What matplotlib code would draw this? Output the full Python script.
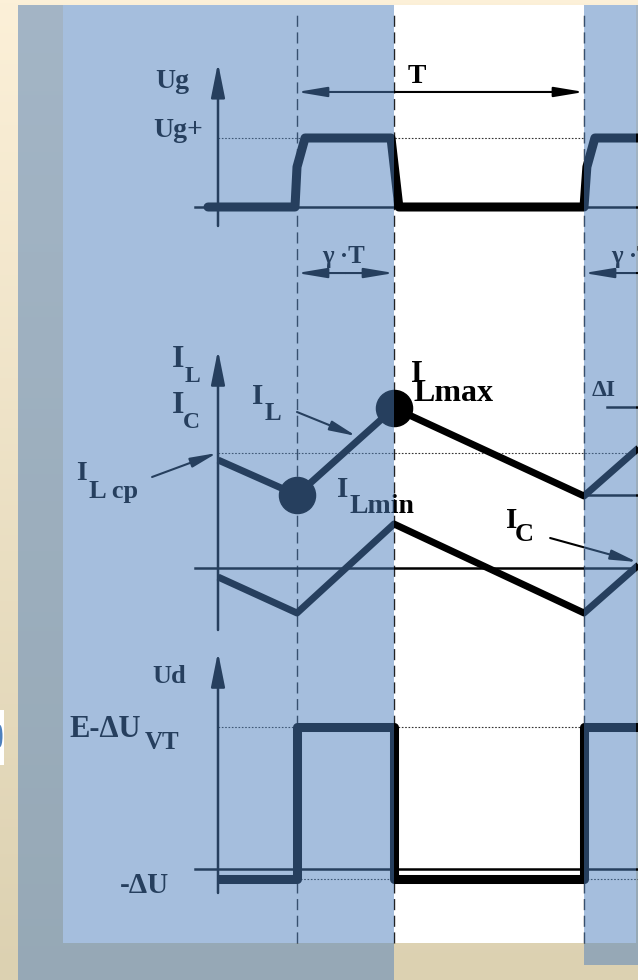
import matplotlib
matplotlib.use("Agg")
import matplotlib.pyplot as plt
from matplotlib.patches import Rectangle, Ellipse
import numpy as np

plt.rcParams['font.family'] = ['Liberation Serif', 'DejaVu Serif']

W, H = 638, 980

# time axis in units of the period T (t=0 at the switch-on edge)
gamma = 0.338

# gate voltage, normalised to Ug+
t_ug = [-0.31, -0.007, 0.0, 0.028, 0.3275, 0.355, 1.0, 1.010, 1.038, 1.19]
ug = [0, 0, 0.58, 1, 1, 0, 0, 0.58, 1, 1]

# inductor and capacitor currents (arbitrary units)
t_i = [-0.275, 0.0, gamma, 1.0, 1.19]
i_L = [2.16, 1.46, 3.2, 1.44, 2.4]
i_C = [-0.18, -0.9, 0.88, -0.9, 0.06]
i_L_cp = 2.3
i_L_min = 1.46
i_L_max = 3.2

# diode voltage (arbitrary units)
t_ud = [-0.275, 0.0, 0.0, gamma, gamma, 1.0, 1.0, 1.19]
ud = [-0.74, -0.74, 10, 10, -0.74, -0.74, 10, 10]
ud_hi = 10
ud_lo = -0.74

X0, TPX = 297, 287      # pixel of t=0 and pixels per period
t_axis = (218 - X0) / TPX
t_left = (195 - X0) / TPX
t_right = (W - X0) / TPX

fig = plt.figure(figsize=(W / 100, H / 100), dpi=100)


def layout_axes(z):
    ax = fig.add_axes([0, 0, 1, 1], zorder=z)
    ax.set_xlim(0, W)
    ax.set_ylim(H, 0)
    ax.axis('off')
    ax.patch.set_visible(False)
    return ax


def layer(y0, scale, z):
    ax = fig.add_axes([0, 0, 1, 1], zorder=z)
    ax.set_xlim(-X0 / TPX, (W - X0) / TPX)
    ax.set_ylim((y0 - H) / scale, y0 / scale)
    ax.axis('off')
    ax.patch.set_visible(False)
    return ax


# ---- slide background ----
bg = layout_axes(-2)
grad = np.linspace(0, 1, 256)[:, None, None]
top = np.array([252, 240, 216]) / 255
bot = np.array([220, 209, 177]) / 255
img = top * (1 - grad) + bot * grad
bg.imshow(np.repeat(img, 2, axis=1), extent=(0, W, H, 0), aspect='auto')
shadow = (104 / 255, 142 / 255, 186 / 255)
bg.add_patch(Rectangle((18, 5), 394 - 18, H - 5, color=shadow, alpha=0.6, lw=0))
bg.add_patch(Rectangle((584, 5), W - 584, 965 - 5, color=shadow, alpha=0.6, lw=0))
bg.add_patch(Rectangle((63, 5), 636 - 63, 943 - 5, color='white', lw=0))
bg.add_patch(Rectangle((0, 710), 4, 55, color='white', lw=0))
bg.add_patch(Ellipse((0, 736), 5, 22, color=(0.3, 0.5, 0.74), lw=0))
bg.set_xlim(0, W)
bg.set_ylim(H, 0)

thick = dict(color='k', solid_joinstyle='round', solid_capstyle='butt')
axis_kw = dict(color='k', lw=1.8)
dot_kw = dict(color='#333333', lw=0.8, linestyle=(0, (1.5, 1.5)))


def axis_arrow(ax, y_bot, y_tip):
    ax.annotate('', xy=(t_axis, y_tip), xytext=(t_axis, y_bot),
                arrowprops=dict(arrowstyle='-|>,head_length=2.1,head_width=0.42',
                                mutation_scale=10, lw=1.8, color='k',
                                shrinkA=0, shrinkB=0))


def arrow(ax, xy_from, xy_to, hl=1.8, hw=0.3, lw=1.5):
    ax.annotate('', xy=xy_to, xytext=xy_from,
                arrowprops=dict(arrowstyle=f'-|>,head_length={hl},head_width={hw}',
                                mutation_scale=10, lw=lw, color='k',
                                shrinkA=0, shrinkB=0))


# ---- Ug panel ----
a1 = layer(207, 69, 1)
for tv in [0, gamma, 1.0]:
    a1.axvline(tv, ymin=1 - 943 / H, ymax=1 - 12 / H, color='#222222', lw=1,
               linestyle=(0, (8, 4)))
a1.plot([t_left, t_right], [0, 0], **axis_kw)
axis_arrow(a1, -0.275, 2.09)
a1.plot([t_axis, 1.0], [1, 1], **dot_kw)
a1.plot(t_ug, ug, lw=6.5, color='k', solid_joinstyle='round', solid_capstyle='round')
arrow(a1, (0.5, 1.667), (0, 1.667))
arrow(a1, (0.5, 1.667), (1.0, 1.667))
arrow(a1, (gamma / 2, -0.957), (0, -0.957))
arrow(a1, (gamma / 2, -0.957), (gamma, -0.957))
arrow(a1, (t_right, -0.957), (1.0, -0.957))

# ---- IL / IC panel ----
a2 = layer(568, 50, 2)
a2.plot([t_left, t_right], [0, 0], **axis_kw)
axis_arrow(a2, -1.24, 4.36)
a2.plot([t_axis, t_right], [i_L_cp, i_L_cp], **dot_kw)
a2.plot(t_i, i_L, lw=5, **thick)
a2.plot(t_i, i_C, lw=5, **thick)
a2.plot([0, gamma], [i_L_min, i_L_max], 'o', ms=26, color='k')
a2.plot([1.0, t_right], [i_L_min, i_L_min], color='k', lw=1.8)
a2.plot([(607 - X0) / TPX, t_right], [3.22, 3.22], color='k', lw=1.8)
arrow(a2, (-0.505, 1.82), (-0.279, 2.3), hl=1.6, hw=0.3)
arrow(a2, (0.0, 3.12), (0.206, 2.64), hl=1.6, hw=0.3)
arrow(a2, (0.882, 0.6), (1.185, 0.12), hl=1.6, hw=0.3)

# ---- Ud panel ----
a3 = layer(868.5, 14.15, 3)
a3.plot([t_left, t_right], [0, 0], **axis_kw)
axis_arrow(a3, -1.73, 15.3)
a3.plot([t_axis, 1.0], [ud_hi, ud_hi], **dot_kw)
a3.plot([0, t_right], [ud_lo, ud_lo], **dot_kw)
a3.plot(t_ud, ud, lw=6.5, **thick)

# ---- labels ----
lay = layout_axes(4)


def lbl(x, y, s, size, **kw):
    lay.text(x, y, s, fontsize=size, ha='left', va='baseline', color='k',
             fontweight='bold', **kw)


lbl(155, 88, 'Ug', 20)
lbl(153, 137, 'Ug+', 20)
lbl(408, 83, 'T', 20)
lbl(322, 263, 'γ ·T', 18)
lbl(611, 263, 'γ ·T', 18)
lbl(172, 367, 'I', 23)
lbl(185, 382, 'L', 17)
lbl(172, 413, 'I', 23)
lbl(183, 428, 'C', 17)
lbl(252, 404, 'I', 21)
lbl(265, 420, 'L', 18)
lbl(76, 480, 'I', 20)
lbl(89, 498, 'L cp', 19)
lbl(411, 382, 'I', 22)
lbl(413, 401, 'Lmax', 23)
lbl(337, 497, 'I', 21)
lbl(350, 513, 'Lmin', 20)
lbl(506, 528, 'I', 21)
lbl(515, 541, 'C', 19)
lbl(592, 396, 'ΔI', 17)
lbl(152, 683, 'Ud', 19)
lbl(69, 737, 'E-ΔU', 22)
lbl(145, 749, 'VT', 18)
lbl(120, 893, '-ΔU', 21)

# ---- translucent blue panels on top ----
fg = layout_axes(5)
blue = (77 / 255, 127 / 255, 188 / 255)
fg.add_patch(Rectangle((63, 5), 394 - 63, 943 - 5, color=blue, alpha=0.5, lw=0))
fg.add_patch(Rectangle((584, 5), 636 - 584, 943 - 5, color=blue, alpha=0.5, lw=0))

fig.savefig('out.png', dpi=100)
